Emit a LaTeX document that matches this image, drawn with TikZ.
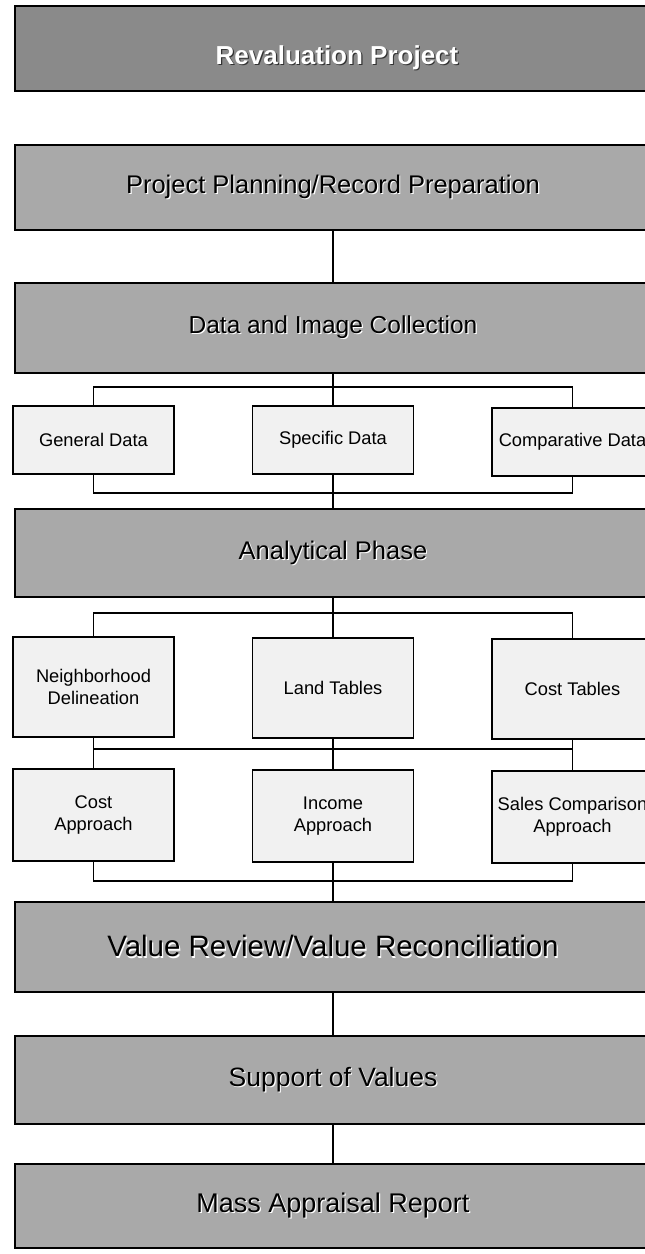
\documentclass[tikz,border=0pt]{standalone}
\usepackage{fontspec}
\setmainfont{Liberation Sans}
\definecolor{revfill}{HTML}{8A8A8A}
\definecolor{bigfill}{HTML}{A9A9A9}
\definecolor{smallfill}{HTML}{F1F1F1}
\newcommand{\shadetxt}[3]{\leavevmode\rlap{\kern1.2pt\raisebox{-1.2pt}{\textcolor{#3}{#1}}}\textcolor{#2}{#1}}
\begin{document}
\begin{tikzpicture}[x=1pt,y=-1pt,
  box/.style={draw=black, line width=1.6pt, inner sep=0pt, align=center},
  bigbox/.style={box, fill=bigfill, minimum width=636pt, font=\fontsize{25.5}{30}\selectfont},
  smallbox/.style={box, fill=smallfill, minimum width=161pt, font=\fontsize{18.3}{21.5}\selectfont},
  link/.style={draw=black, line width=1.3pt}]
\fill[white] (0,0) rectangle (645,1254);
\useasboundingbox (0,0) rectangle (645,1254);
% main column
\node[bigbox, fill=revfill, minimum height=85pt] (rev) at (333,48.5) {};
\node[font=\bfseries\fontsize{26}{30}\selectfont, inner sep=0pt] (revtext) at (337,58) {\shadetxt{Revaluation Project}{white}{black!80}};
\node[bigbox, minimum height=85pt] (pp) at (333,187.5) {\shadetxt{Project Planning/Record Preparation}{black}{white}};
\node[bigbox, minimum height=90pt, font=\fontsize{24.5}{30}\selectfont] (dc) at (333,328) {\shadetxt{Data and Image Collection}{black}{white}};
% data row
\node[smallbox, minimum height=68pt] (gen) at (93.5,440) {General Data};
\node[smallbox, minimum height=68pt] (spec) at (333,440) {Specific Data};
\node[smallbox, minimum height=68pt] (comp) at (572.5,442) {Comparative Data};
\node[bigbox, minimum height=88pt] (ap) at (333,553) {\shadetxt{Analytical Phase}{black}{white}};
% tables row
\node[smallbox, minimum height=100pt] (nb) at (93.5,687) {Neighborhood\\Delineation};
\node[smallbox, minimum height=100pt] (land) at (333,688) {Land Tables};
\node[smallbox, minimum height=100pt] (ct) at (572.5,689) {Cost Tables};
% approaches row
\node[smallbox, minimum height=92pt] (ca) at (93.5,815) {Cost\\Approach};
\node[smallbox, minimum height=92pt] (ia) at (333,816) {Income\\Approach};
\node[smallbox, minimum height=92pt] (sa) at (572.5,817) {Sales Comparison\\Approach};
\node[bigbox, minimum height=90pt, font=\fontsize{29.5}{33}\selectfont] (vr) at (333,947) {\shadetxt{Value Review/Value Reconciliation}{black}{white}};
\node[bigbox, minimum height=88pt, font=\fontsize{26.5}{30}\selectfont] (sv) at (333,1080) {\shadetxt{Support of Values}{black}{white}};
\node[bigbox, minimum height=84pt, font=\fontsize{27}{30}\selectfont] (ma) at (333,1206) {\shadetxt{Mass Appraisal Report}{black}{white}};
% branch points
\coordinate (b1) at (333,387);
\coordinate (b2) at (333,493);
\coordinate (b3) at (333,613);
\coordinate (b4) at (333,749);
\coordinate (b5) at (333,881);
% connectors
\draw[link] (pp) -- (dc);
\draw[link] (dc) -- (spec);
\draw[link] (gen.north) |- (b1) -| (comp.north);
\draw[link] (gen.south) |- (b2) -| (comp.south);
\draw[link] (spec) -- (ap);
\draw[link] (ap) -- (land);
\draw[link] (nb.north) |- (b3) -| (ct.north);
\draw[link] (nb) -- (ca);
\draw[link] (land) -- (ia);
\draw[link] (ct) -- (sa);
\draw[link] (nb.south |- b4) -- (ct.south |- b4);
\draw[link] (ca.south) |- (b5) -| (sa.south);
\draw[link] (ia) -- (vr);
\draw[link] (vr) -- (sv);
\draw[link] (sv) -- (ma);
\end{tikzpicture}
\end{document}
